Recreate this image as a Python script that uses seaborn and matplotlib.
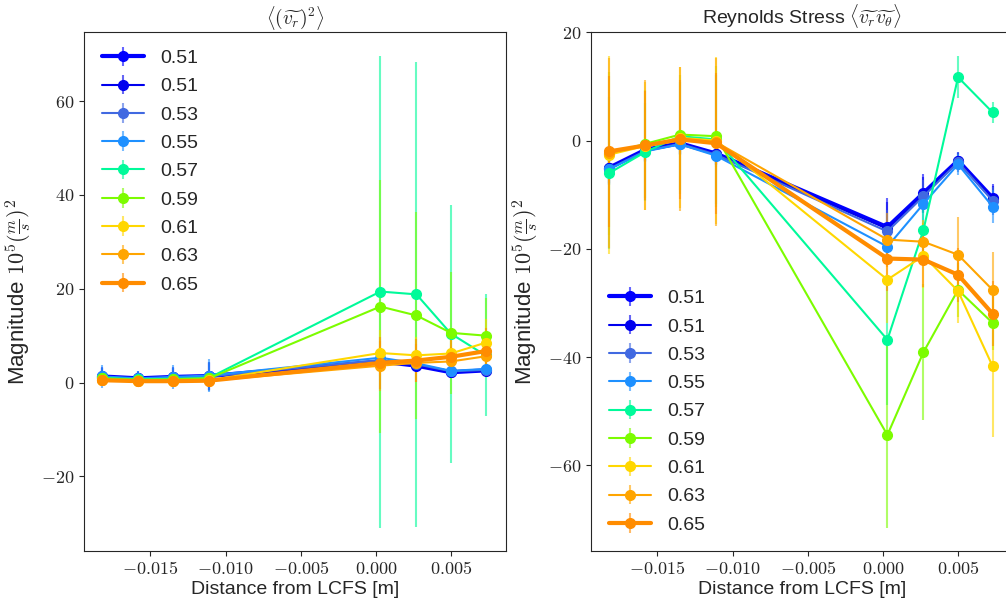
import numpy as np
import matplotlib
matplotlib.use("Agg")
import matplotlib.pyplot as plt
import matplotlib.ticker as mticker
import seaborn as sns

# distance from LCFS [m]
x = [-0.0182, -0.0158, -0.0135, -0.0111, 0.0003, 0.0027, 0.0050, 0.0073]

labels = ["0.51", "0.51", "0.53", "0.55", "0.57", "0.59", "0.61", "0.63", "0.65"]
colors = ["#0000ff", "#0000ee", "#4169e1", "#1e90ff", "#00fa9a", "#7cfc00", "#ffd700", "#ffa500", "#ff8c00"]
widths = [3, 1.5, 1.5, 1.5, 1.5, 1.5, 1.5, 1.5, 3]

# <(v_r)^2>
vr2 = [
    [1.3, 0.9, 1.2, 1.4, 4.5, 3.6, 2.2, 2.6],
    [1.2, 0.9, 1.1, 1.3, 4.4, 3.7, 2.3, 2.5],
    [1.2, 0.8, 1.1, 1.3, 4.8, 3.9, 2.4, 2.7],
    [1.3, 0.9, 1.2, 1.5, 5.3, 4.1, 2.5, 2.9],
    [1.0, 0.7, 0.8, 1.0, 19.4, 18.8, 10.4, 5.8],
    [0.9, 0.6, 0.7, 0.9, 16.2, 14.3, 10.6, 10.0],
    [0.6, 0.4, 0.4, 0.5, 6.3, 5.8, 6.2, 8.5],
    [0.5, 0.3, 0.3, 0.4, 3.6, 4.2, 4.5, 5.6],
    [0.5, 0.3, 0.3, 0.4, 4.2, 4.7, 5.5, 6.7],
]
vr2_err = [
    [2.0, 1.5, 2.2, 3.0, 1.5, 1.2, 0.8, 1.0],
    [1.8, 1.3, 2.0, 2.8, 1.4, 1.1, 0.8, 1.0],
    [2.0, 1.4, 2.1, 3.0, 1.5, 1.2, 0.9, 1.0],
    [2.5, 1.5, 2.5, 3.5, 1.6, 1.3, 1.0, 1.1],
    [1.5, 1.0, 1.2, 1.2, 50.3, 49.5, 27.5, 13.0],
    [1.0, 0.8, 0.8, 0.8, 27.0, 22.0, 13.0, 8.0],
    [0.8, 0.6, 0.6, 0.7, 5.0, 4.0, 4.0, 5.0],
    [0.7, 0.5, 0.5, 0.6, 5.3, 4.0, 3.0, 4.0],
    [0.7, 0.5, 0.5, 0.6, 5.5, 4.5, 4.0, 5.0],
]

# Reynolds stress <v_r v_theta>
rs = [
    [-5.0, -1.7, -0.5, -2.4, -16.0, -9.7, -3.7, -10.6],
    [-5.0, -1.8, -0.5, -2.5, -16.3, -10.0, -3.8, -10.8],
    [-5.2, -1.9, -0.6, -2.6, -16.8, -10.3, -4.0, -11.1],
    [-5.3, -2.0, -0.7, -2.8, -19.6, -11.7, -4.4, -12.2],
    [-6.0, -2.1, 0.8, 0.2, -36.8, -16.5, 11.7, 5.2],
    [-2.4, -0.6, 1.1, 0.8, -54.4, -39.1, -27.6, -33.7],
    [-2.6, -1.0, 0.5, 0.0, -25.7, -21.3, -27.8, -41.7],
    [-2.3, -0.9, 0.3, -0.3, -18.3, -18.7, -21.1, -27.6],
    [-2.0, -0.9, 0.2, -0.5, -21.8, -22.0, -24.8, -32.0],
]
rs_err = [
    [3.0, 2.0, 2.0, 2.0, 5.3, 3.5, 1.5, 2.5],
    [2.8, 2.0, 2.0, 2.0, 5.0, 3.3, 1.5, 2.4],
    [3.0, 2.0, 2.0, 2.0, 4.0, 3.0, 1.8, 2.6],
    [3.0, 2.0, 2.0, 2.0, 3.0, 3.0, 2.0, 3.0],
    [14.0, 9.0, 10.0, 12.0, 12.0, 4.0, 3.9, 2.0],
    [15.0, 10.0, 11.0, 13.0, 17.1, 12.6, 5.0, 5.0],
    [18.3, 11.8, 13.0, 15.5, 8.0, 6.0, 6.0, 13.0],
    [17.5, 12.0, 13.3, 15.5, 5.0, 4.0, 7.0, 7.0],
    [14.0, 10.0, 11.0, 13.0, 6.0, 5.0, 5.0, 6.0],
]

sns.set_style("ticks")
plt.rcParams["font.family"] = ["Liberation Sans", "DejaVu Sans"]
plt.rcParams["mathtext.fontset"] = "cm"

fig = plt.figure(figsize=(10.06, 6.03), dpi=100)
ax1 = fig.add_axes([0.0835, 0.086, 0.4195, 0.861])
ax2 = fig.add_axes([0.5875, 0.086, 0.4195, 0.861])


def draw(ax, vals, errs):
    for lab, c, lw, y, e in zip(labels, colors, widths, vals, errs):
        eb = ax.errorbar(x, y, yerr=e, fmt="o-", color=c, lw=lw, ms=7,
                         elinewidth=1.5, label=lab)
        eb[2][0].set_alpha(0.6)
    ax.set_xlim(-0.01942, 0.00866)
    ax.xaxis.set_major_locator(mticker.MultipleLocator(0.005))
    ax.xaxis.set_major_formatter(mticker.FuncFormatter(lambda v, p: "$%.3f$" % v))
    ax.yaxis.set_major_locator(mticker.MultipleLocator(20))
    ax.yaxis.set_major_formatter(mticker.FuncFormatter(lambda v, p: "$%d$" % round(v)))
    ax.tick_params(labelsize=13)
    ax.set_xlabel("Distance from LCFS [m]", fontsize=14, labelpad=2)
    ax.set_ylabel(r"Magnitude $10^5(\frac{m}{s})^2$", fontsize=16, labelpad=6)


draw(ax1, vr2, vr2_err)
ax1.set_title(r"$\left\langle(\widetilde{v_r})^2\right\rangle$", fontsize=14)
ax1.legend(loc="upper left", frameon=False, fontsize=14, handlelength=2.2,
           labelspacing=0.55)

draw(ax2, rs, rs_err)
ax2.set_title(r"Reynolds Stress $\langle\widetilde{v_r}\widetilde{v_\theta}\rangle$", fontsize=14)
ax2.legend(loc="lower left", frameon=False, fontsize=14, handlelength=2.2,
           labelspacing=0.55)

fig.savefig("out.png", dpi=100)
